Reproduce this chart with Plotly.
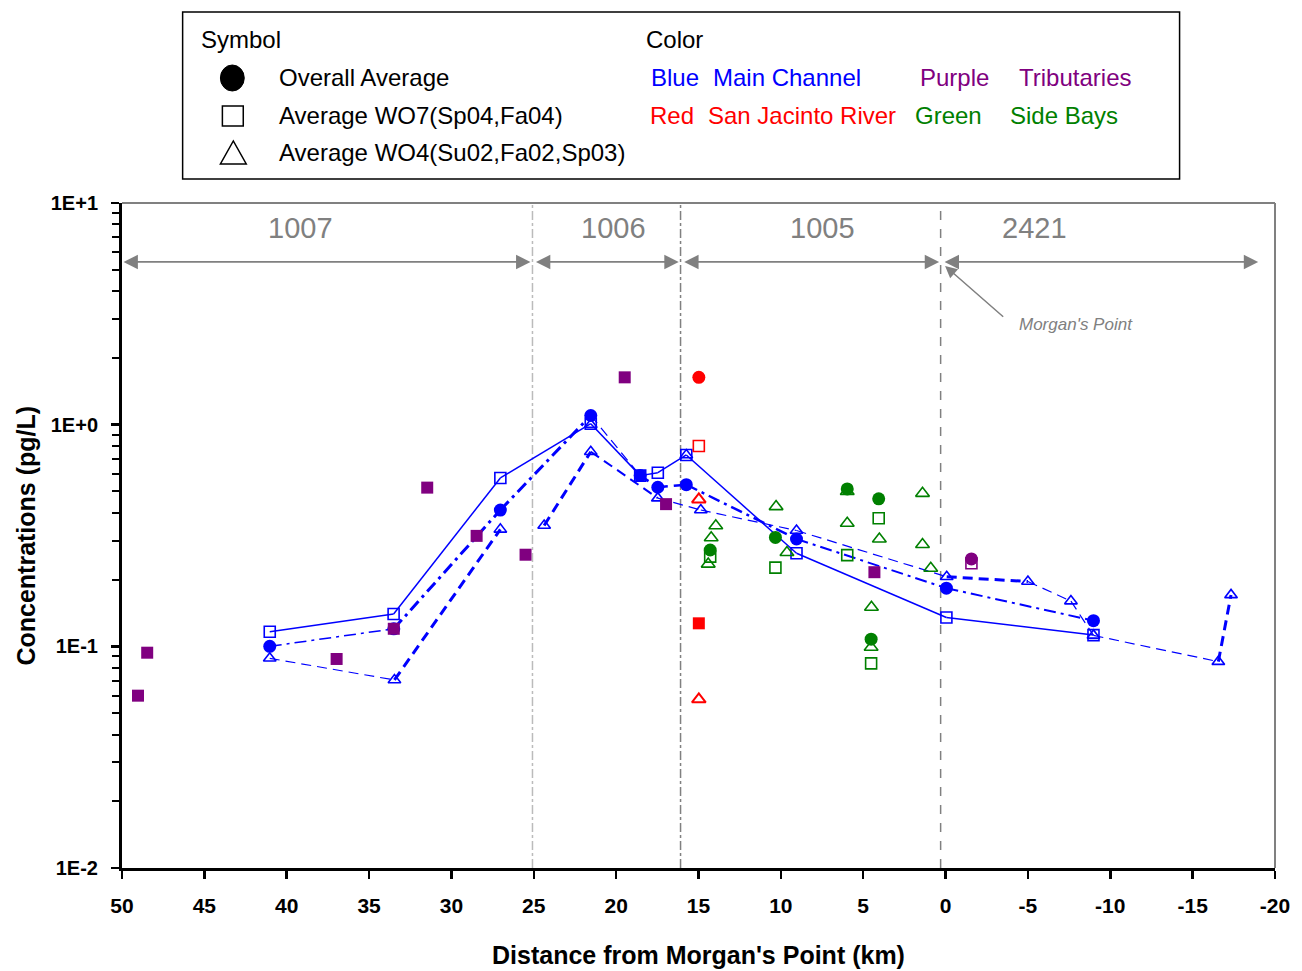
import plotly.graph_objects as go
import math

# ---------------- data ----------------
avg_x = [41.03, 33.5, 27.03, 21.54, 18.54, 17.47, 15.74, 9.05, -0.05, -8.98]
avg_y = [0.100, 0.120, 0.412, 1.10, 0.589, 0.522, 0.536, 0.305, 0.183, 0.1306]

wo7_x = [41.03, 33.51, 27.03, 21.54, 18.54, 17.47, 15.74, 9.05, -0.05, -8.98]
wo7_y = [0.1164, 0.140, 0.575, 1.01, 0.589, 0.607, 0.730, 0.263, 0.135, 0.1124]

wo4_x = [41.03, 33.46, 27.03, 24.37, 21.54, 17.47, 14.86, 9.05, -0.07, -5.0, -7.61, -8.98, -16.56, -17.33]
wo4_y = [0.0883, 0.0705, 0.337, 0.351, 0.755, 0.466, 0.412, 0.333, 0.206, 0.196, 0.160, 0.112, 0.0853, 0.1706]

wo4_extra_x = [21.54, 15.74]
wo4_extra_y = [1.00, 0.73]

red_circle_x = [14.98]
red_circle_y = [1.635]
red_square_x = [14.98]
red_square_y = [0.801]
red_tri_x = [14.98, 14.98]
red_tri_y = [0.460, 0.0577]
red_fsq_x = [14.98]
red_fsq_y = [0.127]

green_circle_x = [14.29, 10.33, 5.97, 4.06, 4.52]
green_circle_y = [0.272, 0.31, 0.513, 0.463, 0.1077]
green_square_x = [14.29, 10.33, 5.97, 4.06, 4.52]
green_square_y = [0.254, 0.2265, 0.258, 0.378, 0.0838]
green_tri_x = [13.95, 14.23, 14.41, 10.29, 9.63, 5.97, 5.97, 4.02, 4.5, 4.52, 1.4, 1.4, 0.9]
green_tri_y = [0.350, 0.309, 0.235, 0.427, 0.265, 0.50, 0.359, 0.305, 0.150, 0.099, 0.490, 0.288, 0.225]

purple_fsq_x = [49.03, 48.47, 36.97, 33.5, 31.47, 28.47, 25.5, 19.48, 16.97, 4.32]
purple_fsq_y = [0.0599, 0.0936, 0.0877, 0.120, 0.520, 0.315, 0.259, 1.635, 0.438, 0.216]
purple_circle_x = [-1.57]
purple_circle_y = [0.248]
purple_square_x = [-1.57]
purple_square_y = [0.237]

segment_labels = ["1007", "1006", "1005", "2421"]
segment_label_x = [39.14, 20.19, 7.46, -5.4]
segment_bounds = [(50, 25.2), (24.96, 16.2), (15.96, 0.39), (0.15, -18.98)]
divider_x = [25.08, 16.09, 0.3]

x_ticks = [50, 45, 40, 35, 30, 25, 20, 15, 10, 5, 0, -5, -10, -15, -20]
x_ticktext = ["50", "45", "40", "35", "30", "25", "20", "15", "10", "5", "0", "-5", "-10", "-15", "-20"]
y_ticks = [0.01, 0.1, 1, 10]
y_ticktext = ["1E-2", "1E-1", "1E+0", "1E+1"]

# ---------------- styles ----------------
BLUE = "#0000FF"
RED = "#FF0000"
GREEN = "#008000"
PURPLE = "#800080"
GRAY = "#808080"
DASH = "10px,6px"
DASHDOT = "12px,5px,3px,5px"

avg_segments = [(0, 1, DASHDOT, 1.5), (1, 2, DASHDOT, 3), (2, 3, DASHDOT, 3), (3, 4, DASH, 1.2),
                (4, 5, DASH, 2.5), (5, 6, DASH, 2.5), (6, 7, DASHDOT, 2.5), (7, 8, DASHDOT, 2),
                (8, 9, DASHDOT, 2)]
wo7_segments = [(i, i + 1, "solid", 1.5) for i in range(len(wo7_x) - 1)]
wo4_segments = [(0, 1, DASH, 1.2), (1, 2, DASH, 3), (3, 4, DASH, 3), (4, 5, DASH, 2),
                (5, 6, DASH, 1.2), (6, 7, DASH, 1.2), (7, 8, DASH, 1.2), (8, 9, DASH, 3),
                (9, 10, DASH, 1.2), (10, 11, DASH, 1.2), (11, 12, DASH, 1.2), (12, 13, DASH, 3)]

# plot area in screen pixels (page body margin is removed below)
L, R, T, B = 122, 1282, 203, 868
W, H = 1302, 971


def PX(X):
    return (X - L) / (R - L)


def PY(Y):
    return (B - Y) / (B - T)


fig = go.Figure()


def add_segments(xs, ys, segs, color):
    for i, j, dash, w in segs:
        fig.add_trace(go.Scatter(x=xs[i:j + 1], y=ys[i:j + 1], mode="lines",
                                 line=dict(color=color, width=w, dash=dash),
                                 hoverinfo="skip", showlegend=False))


def add_markers(xs, ys, symbol, color, size, filled, lw=1.6):
    fig.add_trace(go.Scatter(
        x=xs, y=ys, mode="markers", showlegend=False,
        marker=dict(symbol=symbol if filled else symbol + "-open", size=size,
                    color=color, line=dict(color=color, width=0 if filled else lw))))


add_segments(wo7_x, wo7_y, wo7_segments, BLUE)
add_segments(wo4_x, wo4_y, wo4_segments, BLUE)
add_segments(avg_x, avg_y, avg_segments, BLUE)

add_markers(avg_x, avg_y, "circle", BLUE, 13, True)
add_markers(wo7_x, wo7_y, "square", BLUE, 11, False)
add_markers(wo4_x, wo4_y, "triangle-up", BLUE, 11, False)
add_markers(wo4_extra_x, wo4_extra_y, "triangle-up", BLUE, 11, False)

add_markers(green_circle_x, green_circle_y, "circle", GREEN, 13, True)
add_markers(green_square_x, green_square_y, "square", GREEN, 11, False)
add_markers(green_tri_x, green_tri_y, "triangle-up", GREEN, 12, False)

add_markers(red_circle_x, red_circle_y, "circle", RED, 13, True)
add_markers(red_square_x, red_square_y, "square", RED, 11, False)
add_markers(red_tri_x, red_tri_y, "triangle-up", RED, 12, False, lw=2)
add_markers(red_fsq_x, red_fsq_y, "square", RED, 12, True)

add_markers(purple_fsq_x, purple_fsq_y, "square", PURPLE, 12, True)
add_markers(purple_square_x, purple_square_y, "square", PURPLE, 11, False)
add_markers(purple_circle_x, purple_circle_y, "circle", PURPLE, 13, True)

shapes = []
annotations = []

# plot frame: gray top and right
shapes.append(dict(type="line", xref="paper", yref="paper", x0=0, x1=1, y0=1, y1=1,
                   line=dict(color=GRAY, width=2)))
shapes.append(dict(type="line", xref="paper", yref="paper", x0=1, x1=1, y0=0, y1=1,
                   line=dict(color=GRAY, width=2)))

# segment dividers
div_styles = [("#BBBBBB", "dashdot"), ("#808080", "dashdot"), ("#808080", "dash")]
for dx, (c, d) in zip(divider_x, div_styles):
    shapes.append(dict(type="line", xref="x", yref="paper", x0=dx, x1=dx, y0=0, y1=1,
                       line=dict(color=c, width=1.5, dash=d), layer="below"))

# segment arrows
arrow_logy = math.log10(5.42)
for (a, b) in segment_bounds:
    annotations.append(dict(x=b, y=arrow_logy, ax=a, ay=arrow_logy, xref="x", yref="y",
                            axref="x", ayref="y", showarrow=True, arrowhead=2,
                            arrowside="end+start", arrowsize=1.6, arrowwidth=1.8,
                            arrowcolor=GRAY, text=""))
for lab, lx in zip(segment_labels, segment_label_x):
    annotations.append(dict(x=lx, y=0.887, xref="x", yref="y", text=lab,
                            showarrow=False,
                            font=dict(family="Liberation Sans, Arial", size=29, color=GRAY)))

# Morgan's Point
annotations.append(dict(x=0.03, y=0.716, ax=-3.59, ay=0.481, xref="x", yref="y", axref="x",
                        ayref="y", showarrow=True, arrowhead=2, arrowsize=1.6, arrowwidth=1.5,
                        arrowcolor=GRAY, text=""))
annotations.append(dict(x=-7.93, y=0.450, xref="x", yref="y", text="<i>Morgan's Point</i>",
                        showarrow=False,
                        font=dict(family="Liberation Sans, Arial", size=17, color=GRAY)))

# ---------------- legend box ----------------
shapes.append(dict(type="rect", xref="paper", yref="paper", x0=PX(183), x1=PX(1186),
                   y0=PY(179), y1=PY(12), line=dict(color="black", width=1.5),
                   fillcolor="white"))
# symbols
shapes.append(dict(type="circle", xref="paper", yref="paper", x0=PX(221), x1=PX(245),
                   y0=PY(91), y1=PY(65), fillcolor="black", line=dict(color="black", width=1)))
shapes.append(dict(type="rect", xref="paper", yref="paper", x0=PX(223), x1=PX(244),
                   y0=PY(126), y1=PY(106), line=dict(color="black", width=1.5)))
shapes.append(dict(type="path", xref="paper", yref="paper",
                   path=f"M {PX(221)} {PY(164)} L {PX(247)} {PY(164)} L {PX(234)} {PY(141)} Z",
                   line=dict(color="black", width=1.5)))

LEG_FONT = "Liberation Sans, Arial"


def leg_text(x, y, s, color="black"):
    annotations.append(dict(x=PX(x), y=PY(y), xref="paper", yref="paper", text=s,
                            showarrow=False, xanchor="left", yanchor="middle",
                            font=dict(family=LEG_FONT, size=24, color=color)))


leg_text(199, 40, "Symbol")
leg_text(278, 78, "Overall Average")
leg_text(278, 116, "Average WO7(Sp04,Fa04)")
leg_text(278, 153, "Average WO4(Su02,Fa02,Sp03)")
leg_text(647, 40, "Color")
leg_text(652, 78, "Blue", BLUE)
leg_text(715, 78, "Main Channel", BLUE)
leg_text(923, 78, "Purple", PURPLE)
leg_text(1022, 78, "Tributaries", PURPLE)
leg_text(651, 116, "Red", RED)
leg_text(710, 116, "San Jacinto River", RED)
leg_text(918, 116, "Green", GREEN)
leg_text(1013, 116, "Side Bays", GREEN)

# axis titles
TITLE_FONT = dict(family="Liberation Sans, Arial", size=25, color="black", weight="bold")
annotations.append(dict(x=PX(702), y=PY(955), xref="paper", yref="paper",
                        text="Distance from Morgan's Point (km)", showarrow=False,
                        xanchor="center", yanchor="middle", font=TITLE_FONT))
annotations.append(dict(x=PX(25), y=PY(536), xref="paper", yref="paper",
                        text="Concentrations (pg/L)", showarrow=False, textangle=-90,
                        xanchor="center", yanchor="middle", font=TITLE_FONT))

XTICK_FONT = dict(family="Liberation Sans, Arial", size=21, color="black", weight="bold")
YTICK_FONT = dict(family="Liberation Sans, Arial", size=20, color="black", weight="bold")

fig.update_layout(
    width=W, height=H,
    margin=dict(l=L, r=W - R, t=T, b=H - B, pad=0),
    paper_bgcolor="white", plot_bgcolor="white",
    showlegend=False, hovermode=False,
    shapes=shapes, annotations=annotations,
    xaxis=dict(range=[50, -20], tickvals=x_ticks, ticktext=x_ticktext, ticks="outside",
               ticklen=8, tickwidth=2.5, tickcolor="black", showline=True, linecolor="black",
               linewidth=3, showgrid=False, zeroline=False, tickfont=XTICK_FONT,
               ticklabelstandoff=9),
    yaxis=dict(type="log", range=[-2, 1], tickvals=y_ticks, ticktext=y_ticktext,
               ticks="outside", ticklen=8, tickwidth=2.5, tickcolor="black", showline=True,
               linecolor="black", linewidth=3, showgrid=False, zeroline=False,
               tickfont=YTICK_FONT, ticklabelstandoff=9,
               minor=dict(ticks="outside", ticklen=7, tickwidth=2, tickcolor="black",
                          dtick="D1", showgrid=False)),
)

fig.write_html(
    "out.html",
    config={"displayModeBar": False, "staticPlot": True},
    post_script=("document.documentElement.style.margin='0';document.body.style.margin='0';"
                 "document.body.style.overflow='hidden';"
                 "document.documentElement.style.overflow='hidden';"),
)
